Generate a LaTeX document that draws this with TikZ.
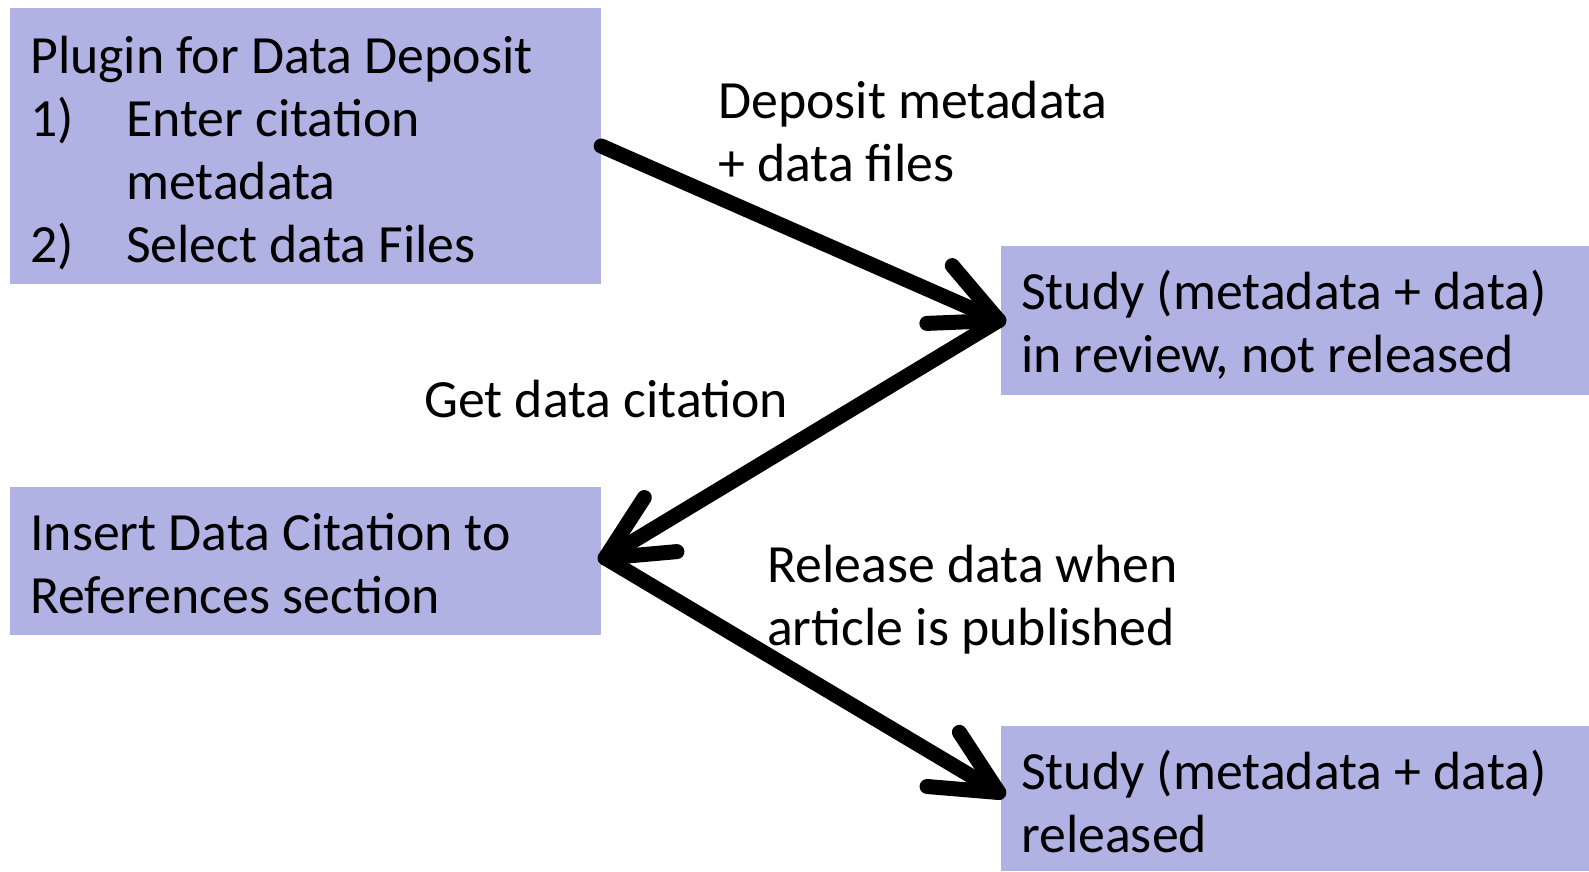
\documentclass[tikz,border=0pt]{standalone}
\usepackage{fontspec}
\setmainfont{Carlito}
\usetikzlibrary{calc}
\definecolor{boxfill}{RGB}{177,178,228}
\tikzset{
  box/.style={fill=boxfill, draw=none, inner sep=0pt, rectangle},
  txt/.style={anchor=base west, inner sep=0pt, font=\fontsize{53.8}{63.3}\selectfont, text=black},
  conn/.style={line width=15pt, line cap=round, line join=round, black},
}
\newcommand{\armlen}{72pt}
\begin{document}
\begin{tikzpicture}[x=1pt,y=-1pt]
\useasboundingbox (0,0) rectangle (1589,871);
\fill[white] (0,0) rectangle (1589,871);
% boxes
\node[box, minimum width=591pt, minimum height=276pt] (plugin) at (305.5,146) {};
\node[box, minimum width=588pt, minimum height=149pt] (review) at (1295,320.5) {};
\node[box, minimum width=591pt, minimum height=148pt] (insert) at (305.5,561) {};
\node[box, minimum width=588pt, minimum height=145pt] (released) at (1295,798.5) {};
% texts
\node[txt] (tplugin) at (30,73) {\vtop{\hbox{Plugin for Data Deposit}\hbox{\makebox[96pt][l]{1)}Enter citation}\hbox{\hspace*{96pt}metadata}\hbox{\makebox[96pt][l]{2)}Select data Files}}};
\node[txt] (treview) at (1021,309) {\vtop{\hbox{Study (metadata + data)}\hbox{in review, not released}}};
\node[txt] (tinsert) at (30,550) {\vtop{\hbox{Insert Data Citation to}\hbox{References section}}};
\node[txt] (treleased) at (1021,789) {\vtop{\hbox{Study (metadata + data)}\hbox{released}}};
\node[txt] (ldeposit) at (718,118) {\vtop{\hbox{Deposit metadata}\hbox{+ data files}}};
\node[txt] (lget) at (424,417) {Get data citation};
\node[txt] (lrelease) at (767,582) {\vtop{\hbox{Release data when}\hbox{article is published}}};
% connectors
\coordinate (revtip) at ($(review.west)+(-2,0)$);
\coordinate (instip) at ($(insert.east)+(4,-3)$);
\coordinate (reltip) at ($(released.west)+(-2,-6)$);
\draw[conn] (plugin.east) -- (revtip);
\draw[conn] ($(revtip)!\armlen!26:(plugin.east)$) -- (revtip) -- ($(revtip)!\armlen!-26:(plugin.east)$);
\draw[conn] (revtip) -- (instip);
\draw[conn] ($(instip)!\armlen!26:(revtip)$) -- (instip) -- ($(instip)!\armlen!-26:(revtip)$);
\draw[conn] (instip) -- (reltip);
\draw[conn] ($(reltip)!\armlen!26:(instip)$) -- (reltip) -- ($(reltip)!\armlen!-26:(instip)$);
\end{tikzpicture}
\end{document}
